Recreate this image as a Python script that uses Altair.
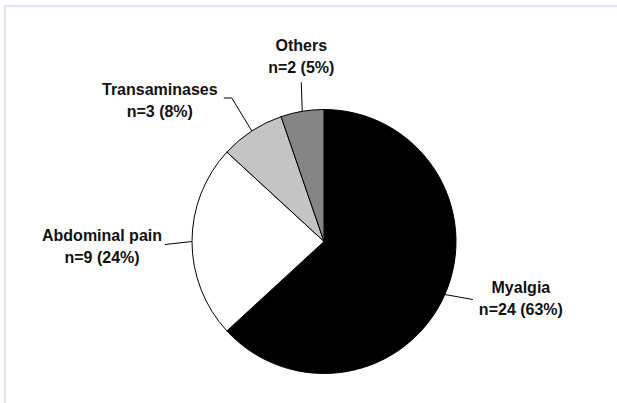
import altair as alt
import numpy as np
import pandas as pd

# Adverse events by type
categories = ["Myalgia", "Abdominal pain", "Transaminases", "Others"]
counts = [24, 9, 3, 2]
percent_labels = ["63%", "24%", "8%", "5%"]
fills = ["#000000", "#ffffff", "#c4c4c4", "#858585"]

W, H = 617, 403
CX, CY, R = 324, 241.5, 132
FONT = "Liberation Sans"

# Label placement: offset of the first text line from the rim point,
# and the leader-line bend points (offsets from the rim point).
label_offset = {
    "Myalgia": (76, -2),
    "Abdominal pain": (-90, -1),
    "Transaminases": (-92, -36),
    "Others": (-1, -60),
}
leader_path = {
    "Myalgia": [(0, 0), (28, 5)],
    "Abdominal pain": [(0, 0), (-27, 3)],
    "Transaminases": [(0, 0), (-20, -33), (-28, -33)],
    "Others": [(0, 0), (-1, -29)],
}

df = pd.DataFrame({
    "category": categories,
    "count": counts,
    "order": range(len(categories)),
})
df["label"] = [f"{c}\nn={n} ({p})" for c, n, p in zip(categories, counts, percent_labels)]

# Mid-angle of every slice (clockwise from 12 o'clock) and its point on the rim
total = float(sum(counts))
ends = np.cumsum(counts) / total * 2 * np.pi
mids = ends - np.array(counts) / total * np.pi
df["rim_x"] = CX + R * np.sin(mids)
df["rim_y"] = CY - R * np.cos(mids)
df["lx"] = [rx + label_offset[c][0] for rx, c in zip(df["rim_x"], categories)]
df["ly"] = [ry + label_offset[c][1] for ry, c in zip(df["rim_y"], categories)]

lines = pd.DataFrame([
    {"category": c, "step": i, "px": rx + dx, "py": ry + dy}
    for c, rx, ry in zip(categories, df["rim_x"], df["rim_y"])
    for i, (dx, dy) in enumerate(leader_path[c])
])

pie = alt.Chart(df).mark_arc(
    outerRadius=R, stroke="#000000", strokeWidth=1
).encode(
    theta=alt.Theta("count:Q", stack=True),
    order=alt.Order("order:Q"),
    color=alt.Color("category:N", scale=alt.Scale(domain=categories, range=fills), legend=None),
    x=alt.value(CX),
    y=alt.value(CY),
)

leaders = alt.Chart(lines).mark_line(color="#000000", strokeWidth=1).encode(
    x=alt.X("px:Q", scale=None),
    y=alt.Y("py:Q", scale=None),
    detail="category:N",
    order="step:Q",
)

labels = alt.Chart(df).mark_text(
    font=FONT, fontSize=16, fontWeight="bold", color="#111111",
    align="center", baseline="alphabetic", lineBreak="\n", lineHeight=22,
).encode(
    x=alt.X("lx:Q", scale=None),
    y=alt.Y("ly:Q", scale=None),
    text="label:N",
)

# Thin frame along the top and left edges
frame = pd.DataFrame({"fx": [5, 5, W], "fy": [H, 6, 6], "step": [0, 1, 2]})
border = alt.Chart(frame).mark_line(color="#dfe3f4", strokeWidth=2).encode(
    x=alt.X("fx:Q", scale=None),
    y=alt.Y("fy:Q", scale=None),
    order="step:Q",
)

chart = alt.layer(border, pie, leaders, labels).properties(
    width=W, height=H, padding=0, autosize=alt.AutoSizeParams(type="none"),
    background="#ffffff",
).configure_view(stroke=None)

chart.save("out.html", embed_options={"renderer": "svg", "actions": False})
